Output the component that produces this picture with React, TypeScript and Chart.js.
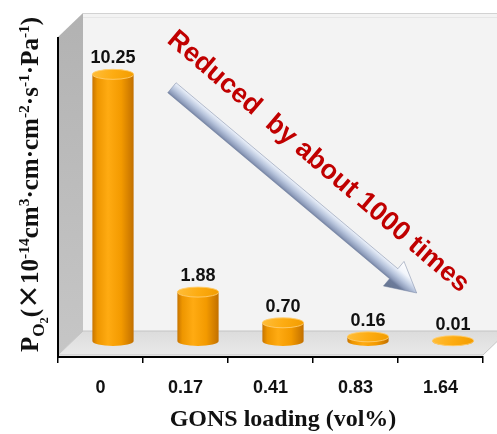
import React, { useEffect, useRef } from 'react';
import { Chart, registerables } from 'chart.js';

Chart.register(...registerables);

// ---------------- data ----------------
const categories = ['0', '0.17', '0.41', '0.83', '1.64'];
const permeability = [10.25, 1.88, 0.7, 0.16, 0.01];
const valueLabels = ['10.25', '1.88', '0.70', '0.16', '0.01'];
const yMin = 0;
const yMax = 12.3;
const xTitle = 'GONS loading (vol%)';
const yTitleParts = [
  { t: 'P', k: 'n' },
  { t: 'O', k: 'sub' },
  { t: '2', k: 'subsub' },
  { t: '(', k: 'n' },
  { t: '×', k: 'x' },
  { t: '10', k: 'n' },
  { t: '-14', k: 'sup' },
  { t: 'cm', k: 'n' },
  { t: '3', k: 'sup' },
  { t: '·cm·cm', k: 'n' },
  { t: '-2', k: 'sup' },
  { t: '·s', k: 'n' },
  { t: '-1', k: 'sup' },
  { t: '·Pa', k: 'n' },
  { t: '-1', k: 'sup' },
  { t: ')', k: 'n' },
];
const annotationText = 'Reduced  by about 1000 times';
// annotation anchors in data space: [category index, value]
const arrowFrom = [0.84, 10.35];
const arrowTo = [3.72, 2.46];
const annotationCenter = [2.56, 7.5];
const annotationAngleDeg = 40.5;

// ---------------- style ----------------
const DEPTH_X = 25;
const DEPTH_Y = 24;
const BAR_SHIFT_X = 12.5;
const BAR_SHIFT_Y = 16;
const SANS = '"Liberation Sans", Arial, sans-serif';
const SERIF = '"Liberation Serif", "Times New Roman", serif';

const RICH: Record<string, { f: number; dy: number; fam: string }> = {
  n: { f: 1, dy: 0, fam: SERIF },
  x: { f: 1, dy: 0, fam: '"Noto Sans CJK SC", sans-serif' },
  sub: { f: 0.68, dy: 0.22, fam: SERIF },
  subsub: { f: 0.5, dy: 0.4, fam: SERIF },
  sup: { f: 0.62, dy: -0.38, fam: SERIF },
};

function drawCylinder(ctx: CanvasRenderingContext2D, cx: number, topY: number, baseY: number, rx: number, ry: number) {
  const g = ctx.createLinearGradient(cx - rx, 0, cx + rx, 0);
  g.addColorStop(0, '#c77400');
  g.addColorStop(0.12, '#ee9600');
  g.addColorStop(0.38, '#ffab12');
  g.addColorStop(0.7, '#f39a00');
  g.addColorStop(1, '#c27000');
  ctx.beginPath();
  ctx.moveTo(cx - rx, topY);
  ctx.lineTo(cx - rx, baseY);
  ctx.ellipse(cx, baseY, rx, ry, 0, Math.PI, 0, true);
  ctx.lineTo(cx + rx, topY);
  ctx.closePath();
  ctx.fillStyle = g;
  ctx.fill();
  const tg = ctx.createLinearGradient(cx - rx, topY - ry, cx + rx, topY + ry);
  tg.addColorStop(0, '#ffbe3a');
  tg.addColorStop(0.5, '#fdac12');
  tg.addColorStop(1, '#f29c00');
  ctx.beginPath();
  ctx.ellipse(cx, topY, rx, ry, 0, 0, Math.PI * 2);
  ctx.fillStyle = tg;
  ctx.fill();
  ctx.strokeStyle = 'rgba(255,205,110,0.9)';
  ctx.lineWidth = 1;
  ctx.stroke();
}

const box3dPlugin = {
  id: 'box3d',
  beforeDraw(chart: any) {
    const { ctx, chartArea: a } = chart;
    const W = chart.width;
    const fb = a.bottom - 2;
    const bb = fb - DEPTH_Y;
    const bl = a.left + DEPTH_X;
    const bt = a.top - DEPTH_Y;
    ctx.save();
    ctx.fillStyle = '#ffffff';
    ctx.fillRect(0, 0, chart.width, chart.height);
    // back wall
    ctx.fillStyle = '#f3f3f3';
    ctx.fillRect(bl, bt, W - bl, bb - bt);
    ctx.strokeStyle = '#d2d2d2';
    ctx.lineWidth = 1;
    ctx.beginPath();
    ctx.moveTo(bl, bt + 0.5);
    ctx.lineTo(W, bt + 0.5);
    ctx.stroke();
    ctx.strokeStyle = '#e6e6e6';
    ctx.beginPath();
    ctx.moveTo(bl, bt + 4.5);
    ctx.lineTo(W, bt + 4.5);
    ctx.stroke();
    // left wall
    const lg = ctx.createLinearGradient(0, bt, 0, fb);
    lg.addColorStop(0, '#b2b2b2');
    lg.addColorStop(1, '#c6c6c6');
    ctx.fillStyle = lg;
    ctx.beginPath();
    ctx.moveTo(a.left, a.top);
    ctx.lineTo(bl, bt);
    ctx.lineTo(bl, bb);
    ctx.lineTo(a.left, fb);
    ctx.closePath();
    ctx.fill();
    // floor
    const fg = ctx.createLinearGradient(0, bb, 0, fb);
    fg.addColorStop(0, '#dcdcdc');
    fg.addColorStop(1, '#e9e9e9');
    ctx.fillStyle = fg;
    ctx.beginPath();
    ctx.moveTo(a.left, fb);
    ctx.lineTo(bl, bb);
    ctx.lineTo(a.right + DEPTH_X, bb);
    ctx.lineTo(a.right, fb);
    ctx.closePath();
    ctx.fill();
    ctx.strokeStyle = '#c4c4c4';
    ctx.stroke();
    // vertical axis line
    ctx.strokeStyle = '#000';
    ctx.lineWidth = 2;
    ctx.beginPath();
    ctx.moveTo(a.left, a.top);
    ctx.lineTo(a.left, a.bottom);
    ctx.stroke();
    ctx.restore();
  },
  afterDatasetsDraw(chart: any) {
    const { ctx, chartArea: a } = chart;
    const xs = chart.scales.x;
    const ys = chart.scales.y;
    const meta = chart.getDatasetMeta(0);
    ctx.save();
    meta.data.forEach((el: any, i: number) => {
      const cx = el.x + BAR_SHIFT_X;
      const top = el.y - BAR_SHIFT_Y;
      const base = el.base - BAR_SHIFT_Y;
      const rx = el.width / 2;
      drawCylinder(ctx, cx, top, base, rx, 5);
      ctx.fillStyle = '#111';
      ctx.font = `bold 18px ${SANS}`;
      ctx.textAlign = 'center';
      ctx.textBaseline = 'alphabetic';
      ctx.fillText(valueLabels[i], cx, top - 11);
    });

    // arrow
    const tx = xs.getPixelForValue(arrowFrom[0]);
    const ty = ys.getPixelForValue(arrowFrom[1]);
    const px = xs.getPixelForValue(arrowTo[0]);
    const py = ys.getPixelForValue(arrowTo[1]);
    const len = Math.hypot(px - tx, py - ty);
    const dx = (px - tx) / len;
    const dy = (py - ty) / len;
    const nx = -dy;
    const ny = dx;
    const sw = 6.5;
    const hw = 16;
    const hl = 30;
    const hx = px - dx * hl;
    const hy = py - dy * hl;
    const mx = (tx + px) / 2;
    const my = (ty + py) / 2;
    const ag = ctx.createLinearGradient(mx - nx * hw, my - ny * hw, mx + nx * hw, my + ny * hw);
    ag.addColorStop(0, '#ffffff');
    ag.addColorStop(0.28, '#f2f5fb');
    ag.addColorStop(0.34, '#e2e9f5');
    ag.addColorStop(0.5, '#b7c4dc');
    ag.addColorStop(0.64, '#8f9dbb');
    ag.addColorStop(0.72, '#6c7b9b');
    ag.addColorStop(1, '#66758f');
    ctx.beginPath();
    ctx.moveTo(tx + nx * sw, ty + ny * sw);
    ctx.lineTo(hx + nx * sw, hy + ny * sw);
    ctx.lineTo(hx + nx * hw, hy + ny * hw);
    ctx.lineTo(px, py);
    ctx.lineTo(hx - nx * hw, hy - ny * hw);
    ctx.lineTo(hx - nx * sw, hy - ny * sw);
    ctx.lineTo(tx - nx * sw, ty - ny * sw);
    ctx.closePath();
    ctx.fillStyle = ag;
    ctx.fill();
    ctx.strokeStyle = 'rgba(110,125,155,0.6)';
    ctx.lineWidth = 0.8;
    ctx.stroke();

    // annotation text
    const ax = xs.getPixelForValue(annotationCenter[0]);
    const ay = ys.getPixelForValue(annotationCenter[1]);
    ctx.save();
    ctx.translate(ax, ay);
    ctx.rotate((annotationAngleDeg * Math.PI) / 180);
    ctx.fillStyle = '#c00000';
    ctx.font = `bold 27px ${SANS}`;
    ctx.textAlign = 'center';
    ctx.textBaseline = 'middle';
    ctx.fillText(annotationText, 0, 0);
    ctx.restore();

    // y title (rich text, rotated)
    ctx.save();
    ctx.translate(38, a.bottom - 5);
    ctx.rotate(-Math.PI / 2);
    ctx.fillStyle = '#111';
    ctx.textAlign = 'left';
    ctx.textBaseline = 'alphabetic';
    const base = 25;
    let pos = 0;
    for (const p of yTitleParts) {
      const s = RICH[p.k];
      ctx.font = `bold ${base * s.f}px ${s.fam}`;
      ctx.fillText(p.t, pos, s.dy * base);
      pos += ctx.measureText(p.t).width;
    }
    ctx.restore();

    // x title
    ctx.fillStyle = '#111';
    ctx.font = `bold 24px ${SERIF}`;
    ctx.textAlign = 'center';
    ctx.textBaseline = 'middle';
    ctx.fillText(xTitle, (a.left + a.right) / 2 + BAR_SHIFT_X, 420);
    ctx.restore();
  },
};

export default function App() {
  const ref = useRef<HTMLCanvasElement | null>(null);
  useEffect(() => {
    document.body.style.margin = '0';
    const canvas = ref.current;
    if (!canvas) return;
    const chart = new Chart(canvas, {
      type: 'bar',
      data: {
        labels: categories,
        datasets: [
          {
            data: permeability,
            backgroundColor: 'rgba(0,0,0,0)',
            borderWidth: 0,
            barPercentage: 0.485,
            categoryPercentage: 1,
          },
        ],
      },
      options: {
        animation: false,
        responsive: false,
        devicePixelRatio: 1,
        layout: { padding: { left: 58, top: 37, right: 14, bottom: 0 } },
        plugins: { legend: { display: false }, tooltip: { enabled: false } },
        scales: {
          x: {
            offset: true,
            grid: {
              display: true,
              drawOnChartArea: false,
              drawTicks: true,
              tickLength: 6,
              color: '#000',
              lineWidth: 1.5,
              offset: true,
            },
            border: { display: true, color: '#000', width: 2 },
            ticks: {
              color: '#111',
              font: { family: SANS, size: 18, weight: 'bold' },
              padding: 14,
              maxRotation: 0,
            },
            afterFit: (s: any) => {
              s.height = 77;
            },
          },
          y: { display: false, min: yMin, max: yMax },
        },
      },
      plugins: [box3dPlugin],
    } as any);
    return () => chart.destroy();
  }, []);
  return (
    <div style={{ width: 497, height: 434 }}>
      <canvas ref={ref} width={497} height={434} style={{ display: 'block' }} />
    </div>
  );
}
